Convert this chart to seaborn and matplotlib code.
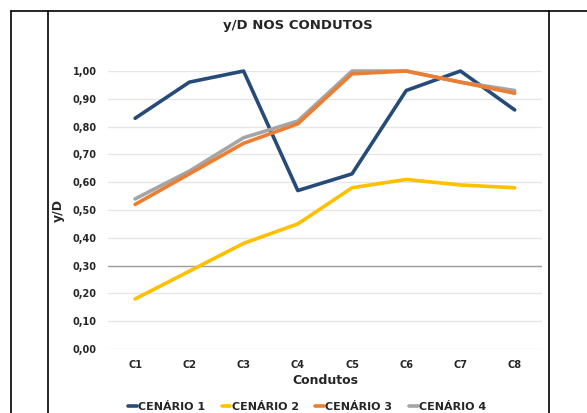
import numpy as np
import pandas as pd
import seaborn as sns
import matplotlib.pyplot as plt
from matplotlib.lines import Line2D

sns.set_style('white')
plt.rcParams['font.family'] = ['DejaVu Sans']

condutos = ['C1', 'C2', 'C3', 'C4', 'C5', 'C6', 'C7', 'C8']
cenario1 = [0.83, 0.96, 1.00, 0.57, 0.63, 0.93, 1.00, 0.86]
cenario2 = [0.18, 0.28, 0.38, 0.45, 0.58, 0.61, 0.59, 0.58]
cenario3 = [0.52, 0.63, 0.74, 0.81, 0.99, 1.00, 0.96, 0.92]
cenario4 = [0.54, 0.64, 0.76, 0.82, 1.00, 1.00, 0.96, 0.93]
nomes = ['CENÁRIO 1', 'CENÁRIO 2', 'CENÁRIO 3', 'CENÁRIO 4']
cores = ['#264b78', '#ffc000', '#ed7d31', '#a5a5a5']

df = pd.DataFrame({'Condutos': condutos * 4,
                   'yD': cenario1 + cenario2 + cenario3 + cenario4,
                   'Cenario': np.repeat(nomes, len(condutos))})
df['pos'] = list(range(len(condutos))) * 4

fig = plt.figure(figsize=(5.87, 4.13), dpi=100)
ax = fig.add_axes([0.184, 0.155, 0.739, 0.673])

for y in np.arange(0, 1.01, 0.1):
    ax.axhline(y, color='#e6e6e6', lw=1, zorder=0)
ax.axhline(0.3, color='#a0a0a0', lw=1, zorder=0)

# cenário 4 drawn under cenário 3, as in the original
order = ['CENÁRIO 1', 'CENÁRIO 2', 'CENÁRIO 4', 'CENÁRIO 3']
for nome in order:
    sub = df[df['Cenario'] == nome]
    sns.lineplot(data=sub, x='pos', y='yD', color=cores[nomes.index(nome)],
                 lw=2.6, ax=ax, legend=False, clip_on=False)

ax.set_xlim(-0.5, 7.5)
ax.set_ylim(0, 1.0)
ax.set_xticks(range(len(condutos)))
ax.set_xticklabels(condutos)
ax.set_yticks(np.arange(0, 1.01, 0.1))
ax.set_yticklabels([f'{v:.2f}'.replace('.', ',') for v in np.arange(0, 1.01, 0.1)])
for lab in ax.get_xticklabels() + ax.get_yticklabels():
    lab.set_fontweight('bold')
    lab.set_fontsize(7)
ax.tick_params(length=0, pad=8)
sns.despine(ax=ax, left=True, bottom=True)
ax.set_xlabel('Condutos', fontsize=9, fontweight='bold', labelpad=3)
ax.set_ylabel('y/D', fontsize=9, fontweight='bold', labelpad=6)

fig.text(0.508, 0.938, 'y/D NOS CONDUTOS', ha='center', va='center',
         fontsize=9.5, fontweight='bold')

handles = [Line2D([0], [0], color=c, lw=2.6) for c in cores]
leg = fig.legend(handles, nomes, loc='center', bbox_to_anchor=(0.523, 0.015),
                 ncol=4, frameon=False, handlelength=0.8, handletextpad=0.1,
                 columnspacing=1.5, prop={'weight': 'bold', 'size': 8})

# table cell borders
for x in [11 / 587, 48 / 587, 549 / 587]:
    fig.add_artist(Line2D([x, x], [0, 1 - 11 / 413], color='black', lw=1.2))
fig.add_artist(Line2D([11 / 587, 1], [1 - 11 / 413, 1 - 11 / 413], color='black', lw=1.2))

plt.savefig('out.png', dpi=100)
